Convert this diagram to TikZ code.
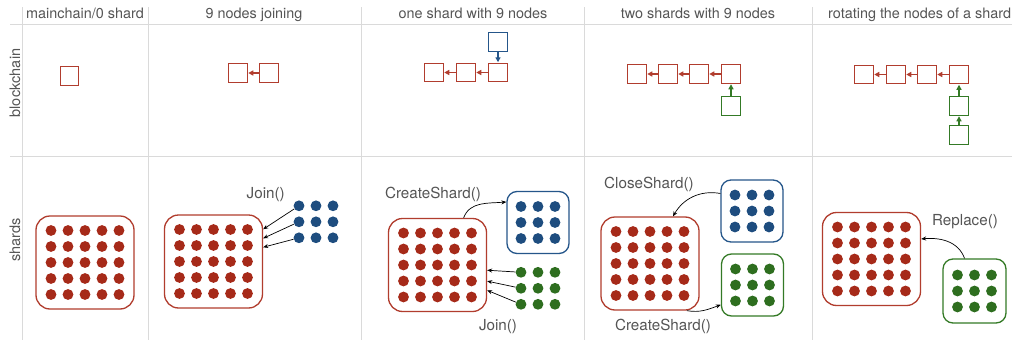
\documentclass[tikz,border=0pt]{standalone}
\usepackage{fontspec}
\setmainfont{TeX Gyre Heros}
\usetikzlibrary{arrows.meta,calc}

\definecolor{chainred}{HTML}{B13D2E}
\definecolor{chainblue}{HTML}{25568A}
\definecolor{chaingreen}{HTML}{347A26}
\definecolor{dotred}{HTML}{A62A19}
\definecolor{dotblue}{HTML}{1E4D7F}
\definecolor{dotgreen}{HTML}{2E6E1F}
\definecolor{gridgray}{HTML}{DADADA}
\definecolor{labelgray}{HTML}{555555}

% grid of node dots centred on a point: name, centre, columns, rows, colour
\newcommand\shardDots[5]{%
  \foreach \i in {1,...,#3}{%
    \foreach \j in {1,...,#4}{%
      \node[dot, fill=#5] (#1-\i-\j) at ($(#2)+({(\i-(#3+1)/2)*17},{-(\j-(#4+1)/2)*16})$) {};
    }%
  }%
}

\tikzset{
  grid/.style={draw=gridgray, line width=1pt},
  title/.style={font=\fontsize{14.4}{16}\selectfont, text=labelgray, anchor=base, inner sep=0pt},
  rowlabel/.style={font=\fontsize{14.5}{16}\selectfont, text=labelgray, rotate=90, inner sep=0pt},
  fn/.style={font=\fontsize{15.2}{17}\selectfont, text=labelgray, anchor=base, inner sep=0pt},
  block/.style={draw, fill=white, line width=1.4pt, minimum size=18.5pt, inner sep=0pt},
  redblock/.style={block, draw=chainred},
  blueblock/.style={block, draw=chainblue},
  greenblock/.style={block, draw=chaingreen},
  link/.style={line width=1.3pt, -{Triangle[length=5pt,width=5pt]}, shorten >=0.3pt},
  shardbox/.style={draw, fill=white, line width=1.3pt, inner sep=0pt},
  bigshard/.style={shardbox, rounded corners=14pt, minimum width=98pt, minimum height=93pt},
  smallshard/.style={shardbox, rounded corners=10pt, minimum width=62pt, minimum height=62pt},
  dot/.style={circle, inner sep=0pt, minimum size=10.8pt},
  call/.style={draw=black, line width=0.7pt, -{Stealth[length=5pt,width=4pt]}},
}

\begin{document}
\begin{tikzpicture}[x=1pt, y=1pt]
\useasboundingbox[fill=white] (0,0) rectangle (1012,-340);

% table rules
\draw[grid] (10,-24) -- (1012,-24);
\draw[grid] (10,-156) -- (1012,-156);
\foreach \gx in {22,148,361,584,812}
  \draw[grid] (\gx,-7) -- (\gx,-340);

% column and row headings
\node[title] (h1) at (85,-19) {mainchain/0 shard};
\node[title] (h2) at (254,-19) {9 nodes joining};
\node[title] (h3) at (473,-19) {one shard with 9 nodes};
\node[title] (h4) at (698,-19) {two shards with 9 nodes};
\node[title, anchor=base west] (h5) at (828,-19) {rotating the nodes of a shard};
\node[rowlabel] (rb) at (15,-83) {blockchain};
\node[rowlabel] (rs) at (15,-240) {shards};

% ---- blockchain row ----
\node[redblock] (c1a) at (69.5,-76) {};

\node[redblock] (c2a) at (238,-73) {};
\node[redblock] (c2b) at (269,-73) {};
\draw[link, chainred] (c2b) -- (c2a);

\node[redblock] (c3a) at (434,-72.5) {};
\node[redblock] (c3b) at (466,-72.5) {};
\node[redblock] (c3c) at (498,-72.5) {};
\node[blueblock] (c3s) at (498,-42) {};
\draw[link, chainred] (c3c) -- (c3b);
\draw[link, chainred] (c3b) -- (c3a);
\draw[link, chainblue] (c3s) -- (c3c);

\node[redblock] (c4a) at (637,-74) {};
\node[redblock] (c4b) at (668,-74) {};
\node[redblock] (c4c) at (699,-74) {};
\node[redblock] (c4d) at (731,-74) {};
\node[greenblock] (c4s) at (731,-106) {};
\draw[link, chainred] (c4d) -- (c4c);
\draw[link, chainred] (c4c) -- (c4b);
\draw[link, chainred] (c4b) -- (c4a);
\draw[link, chaingreen] (c4s) -- (c4d);

\node[redblock] (c5a) at (864,-74.5) {};
\node[redblock] (c5b) at (896,-74.5) {};
\node[redblock] (c5c) at (927,-74.5) {};
\node[redblock] (c5d) at (959,-74.5) {};
\node[greenblock] (c5s) at (959,-106) {};
\node[greenblock] (c5t) at (959,-135) {};
\draw[link, chainred] (c5d) -- (c5c);
\draw[link, chainred] (c5c) -- (c5b);
\draw[link, chainred] (c5b) -- (c5a);
\draw[link, chaingreen] (c5s) -- (c5d);
\draw[link, chaingreen] (c5t) -- (c5s);

% ---- shards row ----
% mainchain only
\node[bigshard, draw=chainred] (s1) at (85,-262.5) {};
\shardDots{s1d}{s1}{5}{5}{dotred}

% nine nodes joining
\node[bigshard, draw=chainred] (s2) at (213.5,-261.5) {};
\shardDots{s2d}{s2}{5}{5}{dotred}
\coordinate (j2) at (316,-221.8);
\shardDots{j2d}{j2}{3}{3}{dotblue}
\draw[call] (j2d-1-1) -- (s2.33);
\draw[call] (j2d-1-2) -- (s2.25);
\draw[call] (j2d-1-3) -- (s2.16);
\node[fn] (f2) at (265.7,-198) {Join()};

% one shard
\node[bigshard, draw=chainred] (s3) at (437.5,-265) {};
\shardDots{s3d}{s3}{5}{5}{dotred}
\node[smallshard, draw=chainblue] (b3) at (538,-222.5) {};
\shardDots{b3d}{b3}{3}{3}{dotblue}
\coordinate (g3) at (538,-288.3);
\shardDots{g3d}{g3}{3}{3}{dotgreen}
\draw[call] (s3.61) to[out=70, in=185] (b3.147);
\draw[call] (g3d-1-1) -- (s3.-6);
\draw[call] (g3d-1-2) -- (s3.-18);
\draw[call] (g3d-1-3) -- (s3.-27);
\node[fn] (f3a) at (433,-198) {CreateShard()};
\node[fn] (f3b) at (498,-330.5) {Join()};

% two shards
\node[bigshard, draw=chainred] (s4) at (650,-263.5) {};
\shardDots{s4d}{s4}{5}{5}{dotred}
\node[smallshard, draw=chainblue] (b4) at (752,-211) {};
\shardDots{b4d}{b4}{3}{3}{dotblue}
\node[smallshard, draw=chaingreen] (g4) at (752.5,-285) {};
\shardDots{g4d}{g4}{3}{3}{dotgreen}
\draw[call] (b4.151) to[out=170, in=60] (s4.64);
\draw[call] (s4.-52) to[out=-10, in=200] (g4.212);
\node[fn] (f4a) at (649,-188.3) {CloseShard()};
\node[fn] (f4b) at (663,-330.7) {CreateShard()};

% rotating nodes
\node[bigshard, draw=chainred] (s5) at (871.5,-259) {};
\shardDots{s5d}{s5}{5}{5}{dotred}
\node[smallshard, draw=chaingreen, minimum width=63pt, minimum height=64pt] (g5) at (974.5,-291) {};
\shardDots{g5d}{g5}{3}{3}{dotgreen}
\draw[call] (g5.107) to[out=110, in=5] (s5.22);
\node[fn] (f5) at (965,-225) {Replace()};
\end{tikzpicture}
\end{document}
